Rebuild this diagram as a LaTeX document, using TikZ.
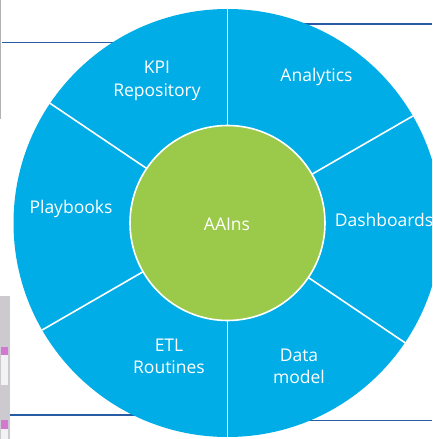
\documentclass[tikz,border=0pt]{standalone}
\usepackage{fontspec}
\setmainfont{Open Sans}
\definecolor{ringblue}{RGB}{0,173,230}
\definecolor{hubgreen}{RGB}{155,202,75}
\definecolor{edgeblue}{RGB}{40,92,165}
\definecolor{stripgray}{RGB}{204,202,206}
\definecolor{tabpink}{RGB}{210,120,210}
\tikzset{
  ringshape/.style={circle, fill=ringblue, minimum size=428pt, inner sep=0pt, outer sep=0pt},
  hubshape/.style={circle, fill=hubgreen, draw=white, line width=1.6pt, minimum size=195pt, inner sep=0pt, outer sep=0pt},
  sepline/.style={draw=white, line width=1.6pt},
  lbl/.style={text=white, font=\fontsize{17.5}{21}\selectfont, anchor=base, inner sep=0pt},
  rule/.style={draw=edgeblue, line width=1.1pt},
}
\begin{document}
\begin{tikzpicture}[x=1pt,y=1pt]
\useasboundingbox (0,0) rectangle (432,439);
\clip (0,0) rectangle (432,439);
\fill[white] (0,0) rectangle (432,439);
% side strip
\fill[stripgray] (0,0) rectangle (10,143);
\fill[white!90!gray] (1,54) rectangle (8,92);
\fill[tabpink] (1,84) rectangle (8,92);
\fill[white!90!gray] (1,0) rectangle (8,19);
\fill[tabpink] (1,10) rectangle (8,19);
\draw[gray!60, line width=0.8pt] (0.4,439) -- (0.4,320);
% page rules
\coordinate (tlA) at (2,396.3);
\coordinate (tlB) at (140,396.3);
\coordinate (trA) at (290,415);
\coordinate (trB) at (432,415);
\coordinate (blA) at (10,24);
\coordinate (blB) at (228,24);
\coordinate (brA) at (228,18.7);
\coordinate (brB) at (432,18.7);
\draw[rule] (tlA) -- (tlB);
\draw[rule] (trA) -- (trB);
\draw[rule] (blA) -- (blB);
\draw[rule] (brA) -- (brB);
% wheel
\node[ringshape] (ring) at (227.5,216) {};
\node[hubshape] (hub) at (227.5,216) {};
\foreach \a in {90,30,-34,-90,210,146}{
  \draw[sepline] (hub.\a) -- (ring.\a);
}
% labels
\node[lbl] (kpi) at (157,365.5) {KPI};
\node[lbl] (repo) at (157,342.3) {Repository};
\node[lbl] (analytics) at (316.5,357.3) {Analytics};
\node[lbl] (dash) at (384,212.5) {Dashboards};
\node[lbl] (play) at (71,225.7) {Playbooks};
\node[lbl] (aains) at (227,208) {AAIns};
\node[lbl] (etl) at (169,87.5) {ETL};
\node[lbl] (routines) at (169,65) {Routines};
\node[lbl] (data) at (299,77.3) {Data};
\node[lbl] (model) at (299,55) {model};
\end{tikzpicture}
\end{document}
